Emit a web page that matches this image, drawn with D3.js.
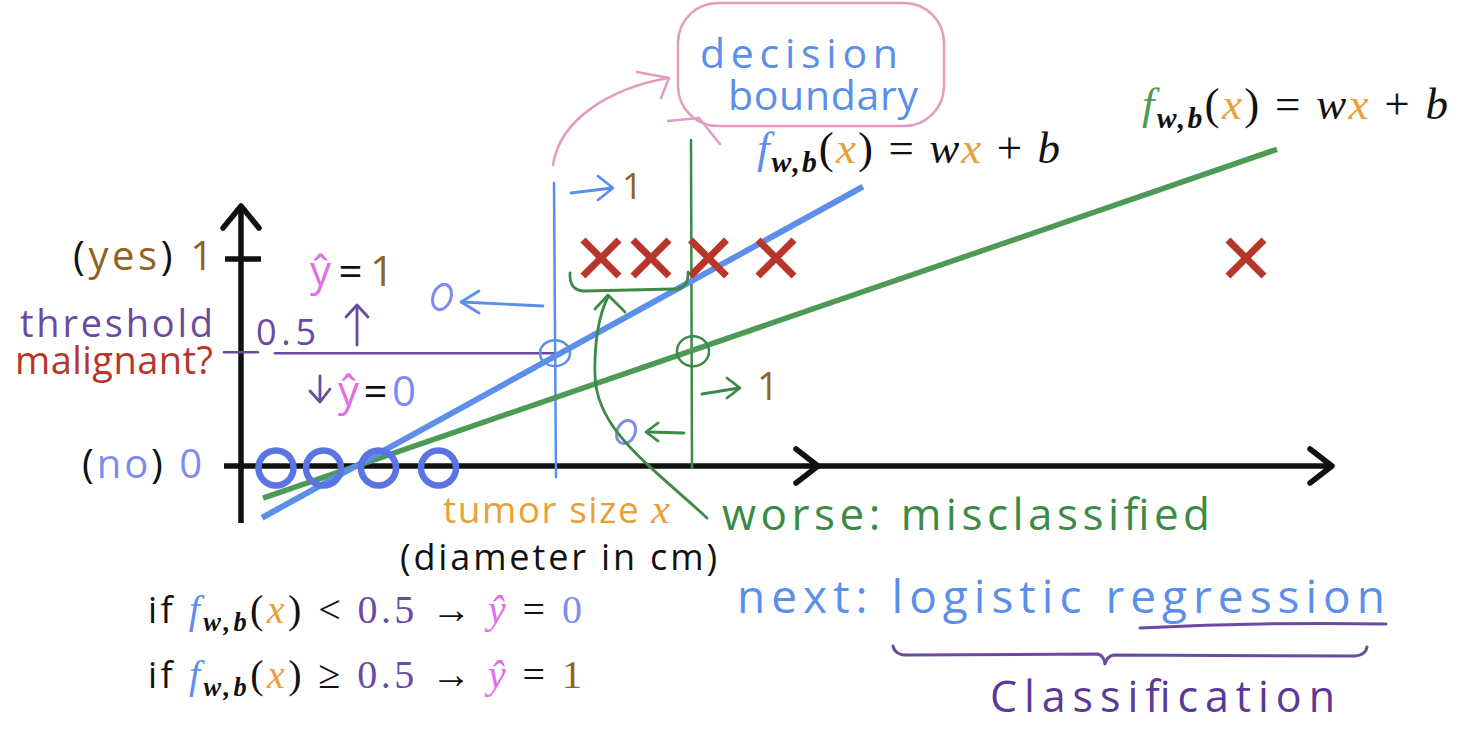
<!DOCTYPE html>
<html>
<head>
<meta charset="utf-8">
<script src="https://cdn.jsdelivr.net/npm/d3@7"></script>
<style>
html, body { margin: 0; padding: 0; background: #fff; }
svg { display: block; }
text { font-family: "Open Sans", sans-serif; white-space: pre; }
.math { font-family: "Liberation Serif", serif; }
.hand { font-family: "Open Sans", sans-serif; }
</style>
</head>
<body>
<svg id="chart"></svg>
<script>
// tumor size (x) of each example, label 0 = benign, 1 = malignant
const benign = [0.7, 1.65, 2.75, 3.95];
const malignant = [7.2, 8.2, 9.35, 10.7, 20.1];

// straight line fits, [x, f(x)] at both ends
const blueFit = [[0.42, -0.25], [12.44, 1.35]];
const greenFit = [[0.44, -0.155], [20.72, 1.53]];

// threshold as drawn and where each fit crosses it
const threshold = 0.545;
const blueBoundary = 6.26;
const greenBoundary = 9.0;

const xAxisExtent = [-0.34, 21.82];
const xArrowTips = [11.54, 21.82];
const yAxisExtent = [-0.275, 1.256];

const W = 1476, H = 730;
const col = {
  blue: '#5b8fea', oBlue: '#5a74e4', green: '#4c9a56', greenInk: '#3b8a45',
  red: '#b8352a', purple: '#6b4a9f', brown: '#926224', orange: '#e9a03a',
  pink: '#e59bbf', magenta: '#e36de6', light: '#7d8cf0', ink: '#111'
};

const svg = d3.select('#chart')
  .attr('width', W)
  .attr('height', H)
  .attr('viewBox', [0, 0, W, H]);

const x = d3.scaleLinear().domain([0, 20]).range([241, 1241]);
const y = d3.scaleLinear().domain([0, 1]).range([466, 259]);

const line = d3.line().x(d => x(d[0])).y(d => y(d[1]));

function chevron(g, tx, ty, dir, back, spread, color, w) {
  // dir: 'right' | 'left' | 'up'
  let pts;
  if (dir === 'right') pts = [[tx - back, ty - spread], [tx, ty], [tx - back, ty + spread]];
  else if (dir === 'left') pts = [[tx + back, ty - spread], [tx, ty], [tx + back, ty + spread]];
  else pts = [[tx - spread, ty + back], [tx, ty], [tx + spread, ty + back]];
  g.append('path')
    .attr('d', d3.line()(pts))
    .attr('fill', 'none')
    .attr('stroke', color)
    .attr('stroke-width', w)
    .attr('stroke-linecap', 'round')
    .attr('stroke-linejoin', 'round');
}

function path(d, color, w) {
  return svg.append('path')
    .attr('d', d)
    .attr('fill', 'none')
    .attr('stroke', color)
    .attr('stroke-width', w)
    .attr('stroke-linecap', 'round')
    .attr('stroke-linejoin', 'round');
}

// ---- axes ----
const axes = svg.append('g').attr('stroke', col.ink).attr('stroke-width', 5.5).attr('fill', 'none');
axes.append('line')
  .attr('x1', x(xAxisExtent[0])).attr('x2', x(xAxisExtent[1]))
  .attr('y1', y(0)).attr('y2', y(0));
axes.append('line')
  .attr('x1', x(0)).attr('x2', x(0))
  .attr('y1', y(yAxisExtent[0])).attr('y2', y(yAxisExtent[1]));
xArrowTips.forEach(t => chevron(axes, x(t), y(0), 'right', 22, 17, col.ink, 5.5));
chevron(axes, x(0), y(yAxisExtent[1]), 'up', 22, 18, col.ink, 5.5);
axes.append('line')
  .attr('x1', x(-0.32)).attr('x2', x(0.4))
  .attr('y1', y(1)).attr('y2', y(1));

// ---- threshold line ----
path(d3.line()([[x(-0.34), y(threshold) - 1], [x(0.34), y(threshold) - 1]]), col.purple, 2.5);
path(d3.line()([[x(0.68), y(threshold)], [x(blueBoundary), y(threshold)]]), col.purple, 2.5);

// ---- decision boundaries ----
path(d3.line()([[x(blueBoundary), 183], [x(blueBoundary) + 2, y(0) + 11]]), col.blue, 2.5);
path(d3.line()([[x(greenBoundary), 140], [x(greenBoundary) + 1, y(0) + 2]]), col.greenInk, 2.5);

// ---- fitted lines ----
svg.append('path').attr('d', line(greenFit)).attr('stroke', col.green).attr('stroke-width', 5.5).attr('fill', 'none');
svg.append('path').attr('d', line(blueFit)).attr('stroke', col.blue).attr('stroke-width', 6).attr('fill', 'none');

// crossing circles
svg.append('ellipse')
  .attr('cx', x(blueBoundary) + 1).attr('cy', y(threshold))
  .attr('rx', 15).attr('ry', 13)
  .attr('fill', 'none').attr('stroke', col.blue).attr('stroke-width', 2.5);
svg.append('ellipse')
  .attr('cx', x(greenBoundary) + 2).attr('cy', y(threshold) - 2)
  .attr('rx', 16).attr('ry', 15)
  .attr('fill', 'none').attr('stroke', col.greenInk).attr('stroke-width', 2.5);

// ---- data marks ----
svg.append('g')
  .selectAll('circle')
  .data(benign)
  .join('circle')
  .attr('cx', d => x(d))
  .attr('cy', y(0) + 2)
  .attr('r', 17.5)
  .attr('fill', 'none')
  .attr('stroke', col.oBlue)
  .attr('stroke-width', 6.5);

const crosses = svg.append('g')
  .attr('stroke', col.red)
  .attr('stroke-width', 7)
  .selectAll('g')
  .data(malignant)
  .join('g')
  .attr('transform', d => 'translate(' + x(d) + ',' + (y(1) - 1) + ')');
crosses.append('line').attr('x1', -18).attr('y1', -18).attr('x2', 18).attr('y2', 18);
crosses.append('line').attr('x1', -18).attr('y1', 18).attr('x2', 18).attr('y2', -18);

// ---- pink "decision boundary" callout ----
svg.append('rect')
  .attr('x', 678).attr('y', 3).attr('width', 266).attr('height', 123)
  .attr('rx', 40).attr('ry', 40)
  .attr('fill', 'none').attr('stroke', col.pink).attr('stroke-width', 2.5);
path('M553,165 C560,118 612,88 668,78', col.pink, 2.5);
path('M637,72 L669,78 L661,98', col.pink, 2.5);
path('M668,121 L699,118 L720,144', col.pink, 2.5);

svg.append('text').attr('class', 'hand')
  .attr('x', 700).attr('y', 68)
  .attr('font-size', 41).attr('fill', col.blue)
  .attr('textLength', 198).attr('lengthAdjust', 'spacing')
  .text('decision');
svg.append('text').attr('class', 'hand')
  .attr('x', 728).attr('y', 110)
  .attr('font-size', 41).attr('fill', col.blue)
  .attr('textLength', 190).attr('lengthAdjust', 'spacing')
  .text('boundary');

// ---- formulas ----
function fwb(t, fColor, size) {
  t.append('tspan').attr('font-style', 'italic').attr('fill', fColor).text('f');
  t.append('tspan').attr('font-style', 'italic').attr('font-weight', 'bold')
    .attr('font-size', size * 0.66).attr('dy', size * 0.2).text('w,b');
  t.append('tspan').attr('dy', -size * 0.2).text('(');
  t.append('tspan').attr('font-style', 'italic').attr('fill', col.orange).text('x');
  t.append('tspan').text(')');
}
function model(px, py, fColor, len) {
  const size = 45;
  const t = svg.append('text').attr('class', 'math')
    .attr('x', px).attr('y', py).attr('font-size', size).attr('fill', col.ink)
    .attr('textLength', len).attr('lengthAdjust', 'spacing');
  fwb(t, fColor, size);
  t.append('tspan').text(' = ');
  t.append('tspan').attr('font-style', 'italic').text('w');
  t.append('tspan').attr('font-style', 'italic').attr('fill', col.orange).text('x');
  t.append('tspan').text(' + ');
  t.append('tspan').attr('font-style', 'italic').text('b');
}
model(757, 163, col.blue, 303);
model(1142, 119, col.green, 306);

function rule(py, op, yhat, yColor) {
  const size = 40;
  const t = svg.append('text').attr('class', 'math')
    .attr('x', 148).attr('y', py).attr('font-size', size).attr('fill', col.ink)
    .attr('textLength', 434).attr('lengthAdjust', 'spacing');
  t.append('tspan').style('font-family', '"Open Sans", sans-serif').attr('font-size', 36).text('if ');
  fwb(t, col.blue, size);
  t.append('tspan').text(' ' + op + ' ');
  t.append('tspan').attr('fill', col.purple).text('0.5');
  t.append('tspan').text(' → ');
  t.append('tspan').attr('font-style', 'italic').attr('fill', col.magenta).text('ŷ');
  t.append('tspan').text(' = ');
  t.append('tspan').attr('fill', yColor).text(yhat);
}
rule(623, '<', '0', col.light);
rule(688, '≥', '1', col.brown);

// ---- axis labels ----
const yes = svg.append('text').attr('x', 73).attr('y', 270).attr('font-size', 40)
  .attr('fill', col.ink).attr('textLength', 140).attr('lengthAdjust', 'spacing');
yes.append('tspan').text('(');
yes.append('tspan').attr('fill', col.brown).text('yes');
yes.append('tspan').text(') ');
yes.append('tspan').attr('fill', col.brown).text('1');

const no = svg.append('text').attr('x', 82).attr('y', 478).attr('font-size', 40)
  .attr('fill', col.ink).attr('textLength', 120).attr('lengthAdjust', 'spacing');
no.append('tspan').text('(');
no.append('tspan').attr('fill', col.light).text('no');
no.append('tspan').text(') ');
no.append('tspan').attr('fill', col.light).text('0');

svg.append('text').attr('x', 20).attr('y', 337).attr('font-size', 38)
  .attr('fill', col.purple).attr('textLength', 193).attr('lengthAdjust', 'spacing')
  .text('threshold');
svg.append('text').attr('x', 15).attr('y', 374).attr('font-size', 38)
  .attr('fill', col.red).attr('textLength', 198).attr('lengthAdjust', 'spacing')
  .text('malignant?');

const tumor = svg.append('text').attr('x', 443).attr('y', 523).attr('font-size', 37)
  .attr('fill', col.orange).attr('textLength', 227).attr('lengthAdjust', 'spacing');
tumor.append('tspan').text('tumor size ');
tumor.append('tspan').style('font-family', '"Liberation Serif", serif')
  .attr('font-style', 'italic').attr('font-size', 42).text('x');
svg.append('text').attr('x', 400).attr('y', 570).attr('font-size', 36)
  .attr('fill', col.ink).attr('textLength', 317).attr('lengthAdjust', 'spacing')
  .text('(diameter in cm)');

// ---- hand annotations around threshold ----
const yhat1 = svg.append('text').attr('class', 'hand').attr('x', 310).attr('y', 286).attr('font-size', 42)
  .attr('textLength', 84).attr('lengthAdjust', 'spacing');
yhat1.append('tspan').attr('fill', col.magenta).text('ŷ');
yhat1.append('tspan').attr('fill', col.ink).text('=');
yhat1.append('tspan').attr('fill', col.brown).text('1');

path('M357,345 L357,306', col.purple, 2.8);
chevron(svg, 357, 305, 'up', 12, 11, col.purple, 2.8);

svg.append('text').attr('class', 'hand').attr('x', 256).attr('y', 345).attr('font-size', 36)
  .attr('fill', col.purple).attr('textLength', 60).attr('lengthAdjust', 'spacing')
  .text('0.5');

path('M320,376 L320,401', col.purple, 2.8);
path('M310,391 L320,402 L330,389', col.purple, 2.8);
const yhat0 = svg.append('text').attr('class', 'hand').attr('x', 338).attr('y', 406).attr('font-size', 42)
  .attr('textLength', 78).attr('lengthAdjust', 'spacing');
yhat0.append('tspan').attr('fill', col.magenta).text('ŷ');
yhat0.append('tspan').attr('fill', col.ink).text('=');
yhat0.append('tspan').attr('fill', col.light).text('0');

// blue boundary: left -> 0, right -> 1
svg.append('ellipse').attr('cx', 442).attr('cy', 297).attr('rx', 9).attr('ry', 13)
  .attr('transform', 'rotate(20,442,297)')
  .attr('fill', 'none').attr('stroke', col.light).attr('stroke-width', 3);
path('M543,306 L462,302', col.blue, 2.8);
chevron(svg, 461, 302, 'left', 18, 11, col.blue, 2.8);
path('M571,193 L612,188', col.blue, 2.8);
chevron(svg, 613, 188, 'right', 15, 12, col.blue, 2.8);
svg.append('text').attr('class', 'hand').attr('x', 622).attr('y', 199).attr('font-size', 36)
  .attr('fill', col.brown).text('1');

// green boundary: left -> 0, right -> 1
path('M702,394 L739,388', col.greenInk, 2.8);
chevron(svg, 740, 388, 'right', 13, 10, col.greenInk, 2.8);
svg.append('text').attr('class', 'hand').attr('x', 757).attr('y', 400).attr('font-size', 38)
  .attr('fill', col.brown).text('1');
path('M684,433 L648,432', col.greenInk, 2.8);
chevron(svg, 646, 432, 'left', 12, 9, col.greenInk, 2.8);
svg.append('ellipse').attr('cx', 626).attr('cy', 432).attr('rx', 9).attr('ry', 12)
  .attr('transform', 'rotate(25,626,432)')
  .attr('fill', 'none').attr('stroke', col.light).attr('stroke-width', 3);

// bracket over the misclassified crosses + curved pointer
path('M570,273 Q569,291 585,291 L674,289 Q689,289 688,272', col.greenInk, 2.8);
path('M707,518 C650,465 596,430 595,375 C594,340 600,312 608,297', col.greenInk, 2.8);
path('M595,309 L608,295 L625,312', col.greenInk, 2.8);

svg.append('text').attr('class', 'hand').attr('x', 722).attr('y', 530).attr('font-size', 44)
  .attr('fill', col.greenInk).attr('textLength', 488).attr('lengthAdjust', 'spacing')
  .text('worse: misclassified');

// ---- next: logistic regression ----
svg.append('text').attr('class', 'hand').attr('x', 737).attr('y', 613).attr('font-size', 46)
  .attr('fill', col.blue).attr('textLength', 648).attr('lengthAdjust', 'spacing')
  .text('next: logistic regression');
path('M1140,628 Q1260,622 1386,624', col.purple, 3);
path('M893,646 Q895,656 910,655 L1098,654 Q1104,656 1105,664 Q1107,656 1114,655 L1355,656 Q1366,655 1367,647', col.purple, 3);
svg.append('text').attr('class', 'hand').attr('x', 990).attr('y', 712).attr('font-size', 43)
  .attr('fill', '#5a3a96').attr('textLength', 345).attr('lengthAdjust', 'spacing')
  .text('Classification');
</script>
</body>
</html>
